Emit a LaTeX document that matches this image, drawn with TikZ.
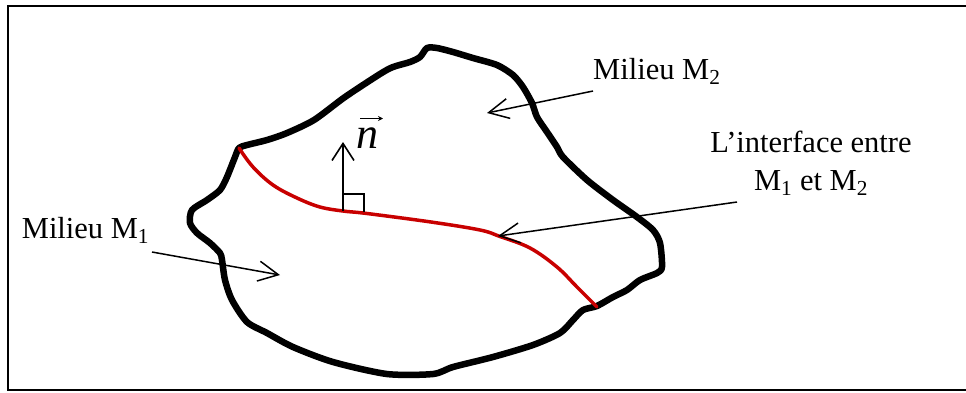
\documentclass[tikz,border=0pt]{standalone}
\usepackage{fontspec}
\setmainfont{Liberation Serif}
\usetikzlibrary{arrows.meta}
\definecolor{interred}{RGB}{200,0,0}
\begin{document}
\begin{tikzpicture}[x=1pt,y=-1pt,
  frameline/.style={line width=2pt},
  blobline/.style={line width=6.5pt, line join=round, line cap=round},
  redline/.style={interred, line width=3.5pt, line cap=round},
  pointer/.style={line width=1.5pt, -{Straight Barb[length=20pt,width=20pt]}},
  lbl/.style={font=\fontsize{30.5}{38}\selectfont, inner sep=0pt}]
\useasboundingbox (0,0) rectangle (966,392);
% frame (right side cropped off in the reference)
\draw[frameline] (966,6.3) -- (8.3,6.3) -- (8.3,390.3) -- (966,390.3);
% outline of the domain
\draw[blobline] plot[smooth cycle, tension=0.45] coordinates {
 (239,148) (247,145) (267,140) (287,133) (314,120) (345,97) (380,74)
 (393,67) (410,62) (420,57) (427,48) (437,48) (453,52) (473,58) (497,65)
 (513,75) (523,87) (532,103) (537,117) (547,132) (557,147) (563,157)
 (587,180) (613,200) (637,217) (653,230) (660,243) (662,267) (657,273)
 (640,280) (627,290) (613,297) (597,306) (583,310) (573,320) (560,333)
 (533,345) (493,357) (453,367) (433,374) (387,374) (333,362) (293,347)
 (267,333) (247,322) (232,300) (225,280) (222,260) (220,253) (210,243)
 (197,233) (190,223) (192,210) (207,200) (220,190) (227,177) (235,157)};
% interface
\draw[redline] plot[smooth, tension=0.6] coordinates {
 (239,148) (253,167) (273,185) (297,198) (320,207) (343,211) (367,213.5)
 (431,222) (480,230) (500,236.5) (530,248) (557,267) (577,287) (597,307)};
% normal vector and right angle
\coordinate (nfoot) at (343,211);
\coordinate (ntip) at (343,142);
\draw[line width=1.6pt, -{Straight Barb[length=17pt,width=22pt]}] (nfoot) -- (ntip);
\draw[line width=1.3pt] (343,194) -- (364,194) -- (364,212);
\node[inner sep=0pt, anchor=base west, font=\fontsize{44}{44}\selectfont\itshape] (nv) at (356,148) {n};
\coordinate (nva) at (360,118.5);
\coordinate (nvb) at (383,118.5);
\draw[line width=1.2pt, -{Stealth[length=5pt,width=5pt]}] (nva) -- (nvb);
% labels
\node[lbl, anchor=base west] (m2) at (593,79) {Milieu M\textsubscript{2}};
\node[lbl, anchor=base west] (m1) at (21.7,238) {Milieu M\textsubscript{1}};
\node[lbl, align=center, anchor=base] (iface) at (811,190) {L’interface entre\\M\textsubscript{1} et M\textsubscript{2}};
% pointers
\coordinate (m2tail) at (593,91);
\coordinate (m2head) at (487,113);
\coordinate (iftail) at (737,202);
\coordinate (ifhead) at (498,236);
\coordinate (m1tail) at (152,252);
\coordinate (m1head) at (280,275);
\draw[pointer] (m2tail) -- (m2head);
\draw[pointer] (iftail) -- (ifhead);
\draw[pointer] (m1tail) -- (m1head);
\end{tikzpicture}
\end{document}
